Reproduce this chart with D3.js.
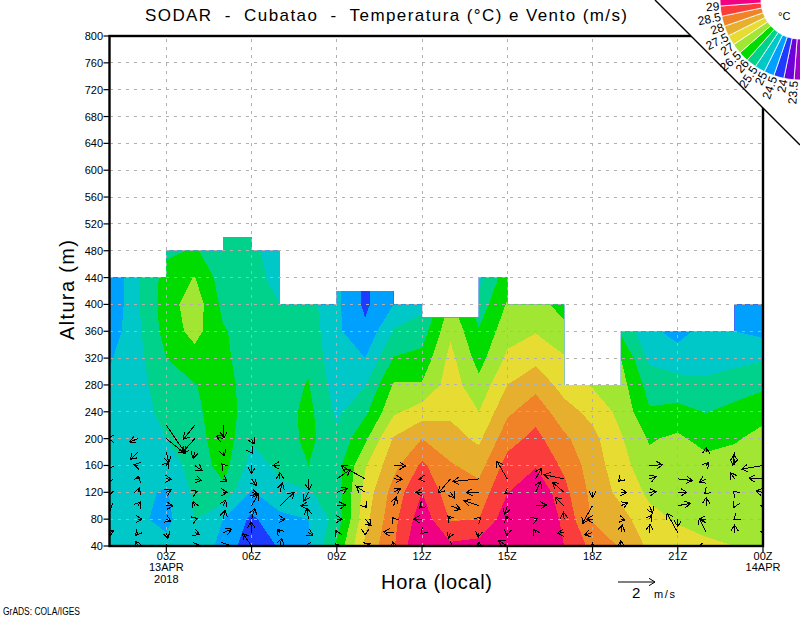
<!DOCTYPE html>
<html>
<head>
<meta charset="utf-8">
<title>SODAR Cubatao</title>
<script src="https://d3js.org/d3.v7.min.js"></script>
<style>
html, body { margin: 0; padding: 0; background: #fff; }
text { font-family: "Liberation Sans", sans-serif; fill: #000; white-space: pre; }
</style>
</head>
<body>
<svg id="chart" width="800" height="618"></svg>
<script>
'use strict';

var n = null;

// hours on the x axis, 01Z 13APR .. 00Z 14APR
var hours = d3.range(1, 25);
var tempLevels = [40, 80, 120, 160, 200, 240, 280, 320, 360, 400, 440, 480, 520];
var xTickHours = [3, 6, 9, 12, 15, 18, 21, 24];
var xTickLabels = ['03Z', '06Z', '09Z', '12Z', '15Z', '18Z', '21Z', '00Z'];
var yTicks = d3.range(40, 801, 40);

// highest valid height between one hour and the next
var topHeights = [440, 440, 480, 480, 500, 480, 400, 400, 420, 420, 400, 380, 380, 440, 400, 400, 280, 280, 360, 360, 360, 360, 400];

// temperature for each hour, bottom to top
var tempByHour = [
  [25.2, 25.2, 25.3, 25.5, 25.52, 25.3, 25.1, 24.95, 24.7, 24.55, 24.55, 24.55, 24.55],
  [25.25, 25.1, 25.1, 25.25, 25.3, 25.3, 25.32, 25.35, 25.4, 25.45, 25.45, 25.45, 25.45],
  [25.15, 24.85, 24.95, 25.25, 25.5, 25.65, 25.8, 26.0, 26.2, 26.25, 26.2, 25.9, 25.9],
  [25.45, 25.52, 25.6, 25.68, 25.78, 25.88, 25.98, 26.3, 26.68, 26.8, 26.52, 26.05, 26],
  [24.8, 25.0, 25.85, 26.2, 26.3, 26.3, 26.2, 26.1, 26.05, 25.86, 25.75, 25.7, 25.7],
  [24.2, 24.4, 24.95, 25.3, 25.55, 25.7, 25.75, 25.75, 25.75, 25.75, 25.7, 25.65, 25.6],
  [24.55, 24.85, 25.4, 25.6, 25.7, 25.75, 25.8, 25.8, 25.7, 25.5, 25.3, 25.2, 25.2],
  [24.9, 25.0, 25.45, 26.0, 26.15, 26.15, 26.03, 25.9, 25.8, 25.7, 25.6, 25.5, 25.5],
  [26.1, 25.7, 25.75, 25.8, 25.6, 25.4, 25.25, 25.15, 25.1, 25.1, 25.1, 25.1, 25.1],
  [27.6, 27.35, 27.2, 26.95, 26.4, 25.9, 25.47, 25.0, 24.6, 24.4, 24.4, 24.4, 24.4],
  [28.45, 28.35, 28.2, 27.85, 27.55, 26.9, 26.55, 26.03, 25.55, 25.0, 24.9, 24.9, 24.9],
  [29.6, 29.3, 29.0, 28.6, 28.0, 27.25, 26.55, 26.15, 25.75, 25.35, 25.2, 25.2, 25.2],
  [29.1, 28.45, 28.2, 28.05, 27.7, 27.4, 27.25, 27.15, 26.9, 26.6, 26.5, 26.5, 26.5],
  [29.2, 28.5, 28.2, 27.8, 27.4, 27.0, 26.65, 26.3, 26.05, 25.7, 25.35, 25.2, 25.2],
  [29.6, 29.3, 28.98, 28.7, 28.3, 27.9, 27.5, 27.1, 26.8, 26.55, 26.3, 26.2, 26.2],
  [29.9, 29.7, 29.45, 28.95, 28.65, 28.3, 27.85, 27.35, 26.97, 26.7, 26.5, 26.5, 26.5],
  [29.0, 28.85, 28.65, 28.4, 28.1, 27.7, 27.3, 27.05, 26.65, 26.3, 26.2, 26.2, 26.2],
  [28.35, 27.95, 27.85, 27.75, 27.65, 27.35, 26.95, 26.6, 26.4, 26.2, 26.2, 26.2, 26.2],
  [27.95, 27.7, 27.35, 27.2, 27.05, 26.85, 26.7, 26.5, 25.9, 25.6, 25.6, 25.6, 25.6],
  [27.4, 27.15, 26.9, 26.65, 26.45, 26.05, 25.8, 25.4, 25.1, 25.0, 25.0, 25.0, 25.0],
  [27.2, 26.95, 26.85, 26.75, 26.6, 26.15, 25.7, 25.2, 24.85, 24.7, 24.7, 24.7, 24.7],
  [27.05, 26.9, 26.8, 26.7, 26.3, 25.98, 25.6, 25.3, 25.15, 25.1, 25.1, 25.1, 25.1],
  [27.0, 26.85, 26.8, 26.7, 26.45, 26.15, 25.75, 25.35, 25.0, 24.85, 24.8, 24.8, 24.8],
  [26.9, 26.85, 26.8, 26.75, 26.65, 26.35, 25.9, 25.45, 24.85, 24.7, 24.7, 24.7, 24.7]
];

// contour levels and shades, GrADS default rainbow
var contourLevels = [23.5, 24, 24.5, 25, 25.5, 26, 26.5, 27, 27.5, 28, 28.5, 29];
var levelLabels = ['23.5', '24', '24.5', '25', '25.5', '26', '26.5', '27', '27.5', '28', '28.5', '29'];
var bandColors = ['rgb(160,0,200)', 'rgb(110,0,220)', 'rgb(30,60,255)', 'rgb(0,160,255)', 'rgb(0,200,200)', 'rgb(0,210,140)', 'rgb(0,220,0)', 'rgb(160,230,50)', 'rgb(230,220,50)', 'rgb(230,175,45)', 'rgb(240,130,40)', 'rgb(250,60,60)', 'rgb(240,0,130)'];

// wind rows, one value per hour, m/s
var windLevels = [220, 200, 180, 160, 140, 120, 100, 80, 60, 40];
var windU = [
  [n, n, 1.03, -.61, .04, n, n, n, n, n, n, n, n, n, n, n, n, n, n, n, n, n, n, n],
  [-.09, -.45, .99, -.67, -.38, .13, n, n, n, n, n, n, n, n, n, n, n, n, n, n, n, n, n, n],
  [n, -.40, .13, -.09, .07, .04, n, n, n, n, n, n, n, n, n, n, n, n, n, n, n, 0, -.09, n],
  [-.14, -.20, .13, .41, -.07, 0, -.38, n, n, n, .65, n, n, n, n, n, n, n, n, .72, n, .14, -.05, -1.15],
  [-.09, .05, .27, .38, .20, .25, 0, .04, .72, -1.30, .47, -.16, -.65, -1.40, -.56, .31, -1.08, n, -.14, .36, .79, -.38, -.22, -.76],
  [-.05, .07, .25, .14, .22, .31, .13, -.25, .58, -.50, .38, -.34, .22, -.67, -.14, .27, -.63, 0, .31, .36, .49, -.09, -.07, -.38],
  [.05, .16, .36, -.09, .14, .36, .77, -.40, .47, .09, .14, -.14, .54, -.79, -.14, .58, -.49, -.56, .36, .18, .68, 0, -.04, -.11],
  [n, .22, .25, .14, .11, .18, .27, -.07, .29, .32, -.07, -.45, -.14, .11, -.07, .09, -.04, -.32, .22, .13, 0, -.36, -.05, -.05],
  [.22, -.11, .09, .25, .47, -.04, -.16, .25, -.05, 0, -.54, -.07, -.11, -.04, -.02, -.09, -.36, -.43, .07, .04, -.58, -.38, 0, -.11],
  [n, -.14, 0, .25, .27, -.47, .09, -.18, -.09, .27, -.05, n, .09, 0, -.47, n, n, 0, 0, n, n, -.45, n, n]
];
var windV = [
  [n, n, -1.51, -.76, -.68, n, n, n, n, n, n, n, n, n, n, n, n, n, n, n, n, n, n, n],
  [0, -.18, -.79, -.76, .13, -.29, n, n, n, n, n, n, n, n, n, n, n, n, n, n, n, n, n, n],
  [n, -.40, -.58, -.34, -.20, -.07, n, n, n, n, n, n, n, n, n, n, n, n, n, n, n, .25, -.72, n],
  [-.18, .05, .18, -.29, .09, -.43, 0, n, n, n, -.04, n, n, n, n, n, n, n, n, .04, n, .16, .58, -.20],
  [-.23, .16, -.02, -.09, -.14, -.36, .34, -.59, .50, .72, -.02, -.02, -.76, -.14, .95, .58, .23, n, -.14, .13, -.09, -.20, .34, .04],
  [-.18, .22, .13, .05, 0, -.09, .49, -.47, .22, .34, .22, 0, -.32, 0, -.09, .58, .54, -.27, 0, .04, 0, -.09, .07, .07],
  [-.22, .22, -.02, .22, .31, .63, .72, 0, .04, -.11, .45, -.13, -.20, .27, -.47, .04, .45, -.97, .16, -.41, .13, .45, -.09, 0],
  [n, 0, -.13, .05, .47, .59, 0, .59, 0, -.36, .09, 0, .18, .09, .18, .04, .38, 0, -.04, .23, -.40, 0, -.04, 0],
  [.09, -.16, -.31, -.11, .18, .59, .18, -.13, .11, -.13, .04, -.07, -.31, -.25, -.16, .18, -.04, -.13, .41, .45, 1.04, .77, .41, .05],
  [n, .27, .09, .05, .07, .68, .41, 0, .14, .14, .22, n, -.09, .22, .29, n, n, .14, .29, n, n, -.05, n, n]
];

var svg = d3.select('#chart');
var x = d3.scaleLinear().domain([1, 24]).range([109.5, 763]);
var y = d3.scaleLinear().domain([40, 800]).range([546, 36]);
var vectorLength = d3.scaleLinear().domain([0, 2]).range([0, 37]);

var defs = svg.append('defs');
defs.append('clipPath').attr('id', 'plotClip').append('rect')
  .attr('x', x(1)).attr('y', y(800)).attr('width', x(24) - x(1)).attr('height', y(40) - y(800));

// valid data area follows the top of the sounding, in steps
var topArea = d3.area()
  .curve(d3.curveStepAfter)
  .x(function (d) { return x(d.hour); })
  .y0(y(40))
  .y1(function (d) { return y(d.top); });
var topData = hours.map(function (h, i) {
  return { hour: h, top: i < topHeights.length ? topHeights[i] : topHeights[topHeights.length - 1] };
});
defs.append('clipPath').attr('id', 'dataClip').append('path').attr('d', topArea(topData));

// shaded contours
var flatTemps = [];
tempLevels.forEach(function (lev, j) {
  hours.forEach(function (h, i) { flatTemps.push(tempByHour[i][j]); });
});
var contours = d3.contours().size([hours.length, tempLevels.length]).thresholds(contourLevels);
var gridX = d3.scaleLinear().domain([0.5, hours.length - 0.5]).range([x(1), x(24)]);
var gridY = d3.scaleLinear().domain([0.5, tempLevels.length - 0.5]).range([y(40), y(520)]);
var contourPath = d3.geoPath(d3.geoTransform({
  point: function (px, py) { this.stream.point(gridX(px), gridY(py)); }
}));

var shade = svg.append('g').attr('clip-path', 'url(#dataClip)');
shade.append('rect').attr('x', x(1)).attr('y', y(800)).attr('width', x(24) - x(1)).attr('height', y(40) - y(800))
  .attr('fill', bandColors[0]);
shade.selectAll('path').data(contours(flatTemps)).enter().append('path')
  .attr('d', contourPath)
  .attr('fill', function (d, i) { return bandColors[i + 1]; })
  .attr('shape-rendering', 'crispEdges');

// dashed grid
var grid = svg.append('g').attr('stroke', '#b0b0b0').attr('stroke-dasharray', '3,5').attr('shape-rendering', 'crispEdges');
grid.selectAll('.h').data(yTicks).enter().append('line').attr('class', 'h')
  .attr('x1', x(1)).attr('x2', x(24))
  .attr('y1', function (d) { return y(d); }).attr('y2', function (d) { return y(d); });
grid.selectAll('.v').data(xTickHours).enter().append('line').attr('class', 'v')
  .attr('y1', y(40)).attr('y2', y(800))
  .attr('x1', function (d) { return x(d); }).attr('x2', function (d) { return x(d); });

// wind vectors, tail on the grid point, head size fixed
function arrowPath(cx, cy, u, v) {
  var len = vectorLength(Math.sqrt(u * u + v * v));
  var ang = Math.atan2(-v, u);
  var hx = cx + len * Math.cos(ang);
  var hy = cy + len * Math.sin(ang);
  var barb = 7;
  var spread = 0.55;
  var p = d3.path();
  p.moveTo(cx, cy);
  p.lineTo(hx, hy);
  p.moveTo(hx - barb * Math.cos(ang - spread), hy - barb * Math.sin(ang - spread));
  p.lineTo(hx, hy);
  p.lineTo(hx - barb * Math.cos(ang + spread), hy - barb * Math.sin(ang + spread));
  return p.toString();
}
var vectors = [];
windLevels.forEach(function (lev, j) {
  hours.forEach(function (h, i) {
    if (windU[j][i] !== null) vectors.push({ hour: h, level: lev, u: windU[j][i], v: windV[j][i] });
  });
});
svg.append('g').attr('clip-path', 'url(#plotClip)').attr('fill', 'none').attr('stroke', '#000').attr('stroke-width', 1)
  .attr('shape-rendering', 'crispEdges')
  .selectAll('path').data(vectors).enter().append('path')
  .attr('d', function (d) { return arrowPath(x(d.hour), y(d.level), d.u, d.v); });

// frame and ticks
svg.append('rect').attr('x', x(1)).attr('y', y(800)).attr('width', x(24) - x(1)).attr('height', y(40) - y(800))
  .attr('fill', 'none').attr('stroke', '#000').attr('stroke-width', 2.4);
var ticks = svg.append('g').attr('stroke', '#000').attr('stroke-width', 1.2);
ticks.selectAll('.yt').data(yTicks).enter().append('line').attr('class', 'yt')
  .attr('x1', x(1) - 6).attr('x2', x(1))
  .attr('y1', function (d) { return y(d); }).attr('y2', function (d) { return y(d); });
ticks.selectAll('.xt').data(xTickHours).enter().append('line').attr('class', 'xt')
  .attr('y1', y(40)).attr('y2', y(40) + 6)
  .attr('x1', function (d) { return x(d); }).attr('x2', function (d) { return x(d); });

// tick labels
svg.append('g').selectAll('text').data(yTicks).enter().append('text')
  .attr('x', 103).attr('y', function (d) { return y(d) + 4; })
  .attr('text-anchor', 'end').attr('font-size', 11).text(function (d) { return d; });
svg.append('g').selectAll('text').data(xTickHours).enter().append('text')
  .attr('x', function (d) { return x(d); }).attr('y', 560)
  .attr('text-anchor', 'middle').attr('font-size', 11)
  .text(function (d, i) { return xTickLabels[i]; });
[['13APR', 3, 571], ['2018', 3, 583], ['14APR', 24, 571]].forEach(function (t) {
  svg.append('text').attr('x', x(t[1])).attr('y', t[2]).attr('text-anchor', 'middle').attr('font-size', 11).text(t[0]);
});

// titles
svg.append('text').attr('x', 145).attr('y', 21).attr('font-size', 17)
  .attr('textLength', 482).attr('lengthAdjust', 'spacing')
  .text('SODAR  -  Cubatao  -  Temperatura (°C) e Vento (m/s)');
svg.append('text').attr('x', 381).attr('y', 589).attr('font-size', 20)
  .attr('textLength', 111).attr('lengthAdjust', 'spacing').text('Hora (local)');
svg.append('text').attr('transform', 'translate(74,340) rotate(-90)').attr('font-size', 20)
  .attr('textLength', 100).attr('lengthAdjust', 'spacing').text('Altura (m)');
svg.append('text').attr('x', 3).attr('y', 615).attr('font-size', 10)
  .attr('textLength', 77).attr('lengthAdjust', 'spacingAndGlyphs').text('GrADS: COLA/IGES');

// reference vector
svg.append('path').attr('fill', 'none').attr('stroke', '#000').attr('stroke-width', 1)
  .attr('d', arrowPath(618, 582, 2, 0));
svg.append('text').attr('x', 632).attr('y', 598).attr('font-size', 15).text('2');
svg.append('text').attr('x', 654).attr('y', 598).attr('font-size', 11).attr('textLength', 21).text('m/s');

// corner blanked for the colour key
svg.append('path').attr('d', d3.line()([[655, 0], [800, 145], [800, 0]]) + 'Z').attr('fill', '#fff');
svg.append('line').attr('x1', 655).attr('y1', 0).attr('x2', 800).attr('y2', 145)
  .attr('stroke', '#000').attr('stroke-width', 1.4);

// colour key, quarter ring around the corner
var keyFirst = 4.3, keyStep = 7.4;
var keyEdges = [];
levelLabels.forEach(function (l, i) {
  keyEdges.push(keyFirst + keyStep * (levelLabels.length - 1 - i));
});
var keyArc = d3.arc().innerRadius(39).outerRadius(80);
var rad = Math.PI / 180;
var key = svg.append('g').attr('transform', 'translate(800,0)');
key.selectAll('path').data(bandColors).enter().append('path')
  .attr('fill', function (d) { return d; })
  .attr('stroke', '#fff').attr('stroke-width', 0.8)
  .attr('d', function (d, i) {
    var from = i === 0 ? 95 : keyEdges[i - 1];
    var to = i === bandColors.length - 1 ? -5 : keyEdges[i];
    return keyArc({ startAngle: (-90 - from) * rad, endAngle: (-90 - to) * rad });
  });
key.selectAll('text').data(levelLabels).enter().append('text')
  .attr('font-size', 12).attr('text-anchor', 'end').attr('dy', '0.35em')
  .attr('transform', function (d, i) {
    var a = keyEdges[i];
    var r = 81;
    return 'translate(' + (-r * Math.cos(a * rad)) + ',' + (r * Math.sin(a * rad)) + ') rotate(' + (-a) + ')';
  })
  .text(function (d) { return d; });
svg.append('text').attr('x', 778).attr('y', 20).attr('font-size', 11).text('°C');
</script>
</body>
</html>
